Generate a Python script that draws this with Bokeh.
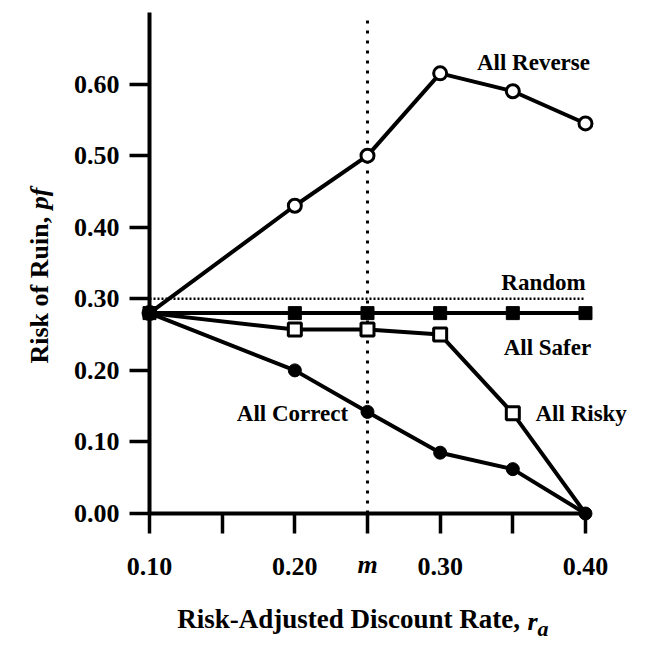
import math

from bokeh.embed import file_html
from bokeh.models import FixedTicker, Label
from bokeh.plotting import figure
from bokeh.resources import INLINE

# Risk-adjusted discount rate (x) and risk of ruin (y) for each strategy
rate = [0.10, 0.20, 0.25, 0.30, 0.35, 0.40]
all_reverse = [0.28, 0.43, 0.50, 0.615, 0.59, 0.545]
all_safer = [0.28, 0.28, 0.28, 0.28, 0.28, 0.28]
all_risky = [0.28, 0.257, 0.257, 0.25, 0.14, 0.00]
all_correct = [0.28, 0.20, 0.142, 0.085, 0.062, 0.00]

# Random-choice benchmark level and the marked rate m
random_rate = [0.10, 0.40]
random_level = [0.30, 0.30]
m_rate = 0.25
m_span = [0.0, 0.69]

x_ticks = [0.10, 0.15, 0.20, 0.25, 0.30, 0.35, 0.40]
x_tick_labels = {0.10: "0.10", 0.15: "", 0.20: "0.20", 0.25: "", 0.30: "0.30", 0.35: "", 0.40: "0.40"}
y_ticks = [0.0, 0.1, 0.2, 0.3, 0.4, 0.5, 0.6]
y_tick_labels = {0.0: "0.00", 0.1: "0.10", 0.2: "0.20", 0.3: "0.30", 0.4: "0.40", 0.5: "0.50", 0.6: "0.60"}

FONT = "Liberation Serif"
INK = "black"

# The data frame spans the whole canvas; the axes sit at fixed data positions
# so that titles and the m label can be placed around them.
p = figure(
    width=645, height=645,
    x_range=(-0.00253, 0.4413), y_range=(-0.1844, 0.7168),
    output_backend="svg", toolbar_location=None,
    min_border=0, min_border_left=0, min_border_right=0,
    min_border_top=0, min_border_bottom=0,
)
p.outline_line_color = None
p.xgrid.visible = False
p.ygrid.visible = False
p.background_fill_color = "white"
p.border_fill_color = "white"

p.xaxis.fixed_location = 0.0
p.xaxis.bounds = (0.10, 0.40)
p.yaxis.fixed_location = 0.10
p.yaxis.bounds = (0.0, 0.70)

for ax, ticks, labels in ((p.xaxis, x_ticks, x_tick_labels), (p.yaxis, y_ticks, y_tick_labels)):
    ax.ticker = FixedTicker(ticks=ticks)
    ax.major_label_overrides = labels
    ax.minor_tick_line_color = None
    ax.axis_line_width = 4
    ax.axis_line_color = INK
    ax.major_tick_line_width = 3.5
    ax.major_tick_line_color = INK
    ax.major_tick_out = 20
    ax.major_tick_in = 0
    ax.major_label_text_font = FONT
    ax.major_label_text_font_style = "bold"
    ax.major_label_text_font_size = "26px"
    ax.major_label_text_color = INK
p.xaxis.major_label_standoff = 24
p.yaxis.major_label_standoff = 10

# Reference lines
p.line([m_rate, m_rate], m_span, line_color=INK, line_width=3, line_dash="3 7")
p.line(random_rate, random_level, line_color=INK, line_width=2.5, line_dash="2 2")

# Strategy curves
for ys in (all_reverse, all_safer, all_risky, all_correct):
    p.line(rate, ys, line_color=INK, line_width=4)

# Open markers; All Risky shares its end points with the filled series
p.scatter(rate, all_reverse, marker="circle", size=13, fill_color="white", line_color=INK, line_width=3)
p.scatter(rate[1:-1], all_risky[1:-1], marker="square", size=13, fill_color="white", line_color=INK, line_width=3)
p.scatter(rate, all_safer, marker="square", size=13, fill_color=INK, line_color=INK)
p.scatter(rate, all_correct, marker="circle", size=13, fill_color=INK, line_color=INK)


def label(x, y, text, size="23px", style="bold", align="center", baseline="middle", angle=0.0):
    p.add_layout(Label(
        x=x, y=y, text=text, angle=angle,
        text_font=FONT, text_font_size=size, text_font_style=style,
        text_align=align, text_baseline=baseline, text_color=INK,
    ))


# Series labels
label(0.3642, 0.630, "All Reverse")
label(0.3711, 0.3228, "Random")
label(0.3738, 0.2319, "All Safer")
label(0.3656, 0.1397, "All Risky", align="left")
label(0.1984, 0.1397, "All Correct")

# Tick label for the marked rate
label(m_rate, -0.0715, "m", size="26px", style="bold italic", baseline="alphabetic")

# Axis titles
label(0.3550, -0.1467, "Risk-Adjusted Discount Rate,", size="27px", align="right", baseline="alphabetic")
label(0.3601, -0.1509, "r", size="26px", style="bold italic", align="left", baseline="alphabetic")
label(0.3669, -0.1607, "a", size="22px", style="bold italic", align="left", baseline="alphabetic")
label(0.0243, 0.2096, "Risk of Ruin,", size="26px", align="left", baseline="alphabetic", angle=math.pi / 2)
label(0.0243, 0.4555, "pf", size="26px", style="bold italic", align="right", baseline="alphabetic", angle=math.pi / 2)

open("out.html", "w").write(file_html(p, INLINE))
